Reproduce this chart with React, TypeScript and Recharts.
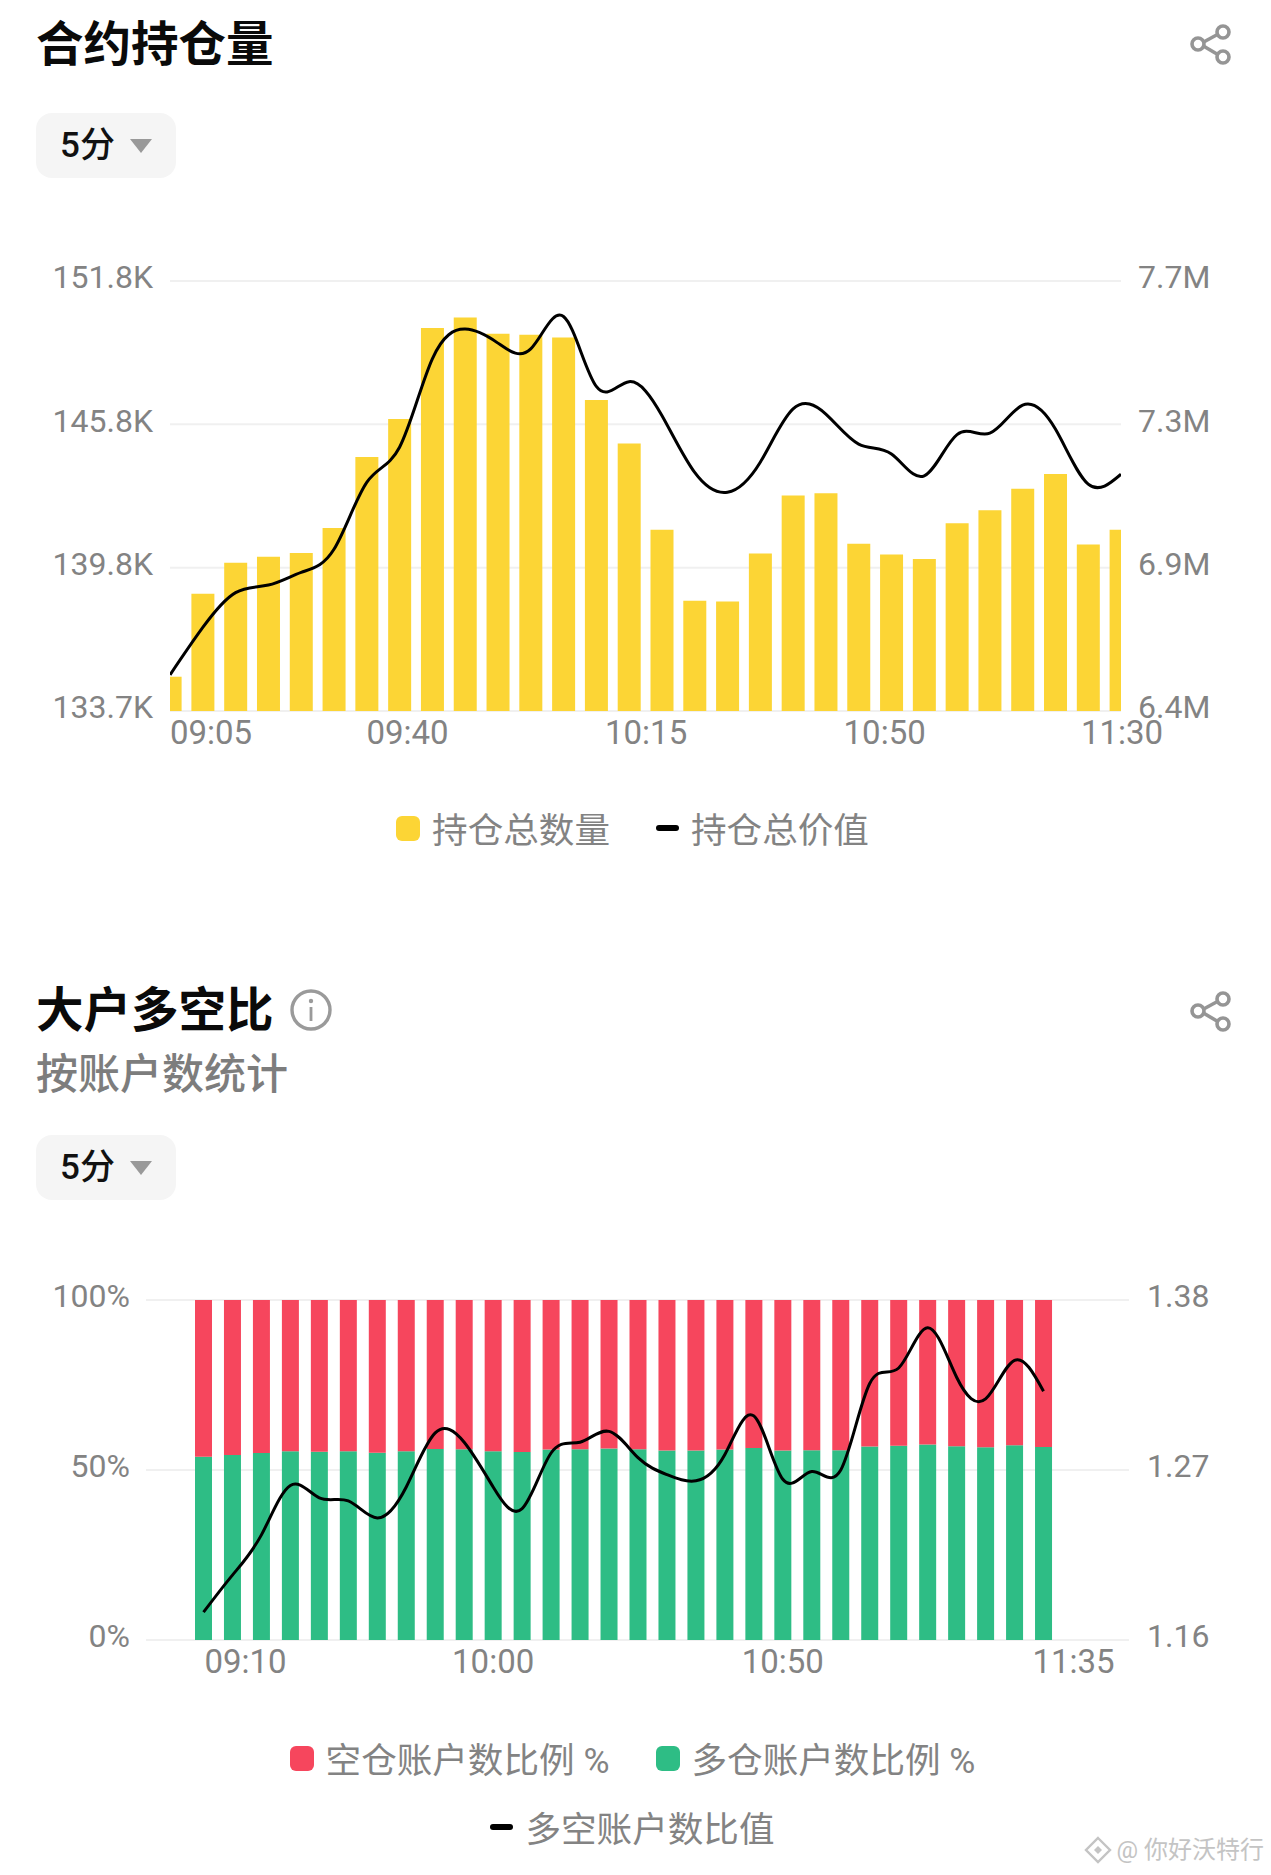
import {
  Bar,
  CartesianGrid,
  ComposedChart,
  Legend,
  Line,
  XAxis,
  YAxis,
} from "recharts";

const FONT = "Roboto, 'Noto Sans CJK SC', sans-serif";
const GRAY = "#838383";

const oiTimes = [
  "09:05", "09:10", "09:15", "09:20", "09:25", "09:30", "09:35", "09:40", "09:45", "09:50",
  "09:55", "10:00", "10:05", "10:10", "10:15", "10:20", "10:25", "10:30", "10:35", "10:40",
  "10:45", "10:50", "10:55", "11:00", "11:05", "11:10", "11:15", "11:20", "11:25", "11:30",
];
// thousands of contracts
const oiAmount = [
  135.18, 138.66, 139.97, 140.22, 140.38, 141.43, 144.41, 146.0, 149.83, 150.27,
  149.58, 149.54, 149.43, 146.8, 144.97, 141.35, 138.37, 138.34, 140.35, 142.79,
  142.89, 140.76, 140.31, 140.12, 141.63, 142.17, 143.07, 143.69, 140.73, 141.35,
];
// millions
const oiValue = [
  6.546, 6.685, 6.787, 6.809, 6.846, 6.914, 7.11, 7.213, 7.472, 7.559,
  7.518, 7.501, 7.596, 7.391, 7.405, 7.306, 7.139, 7.081, 7.169, 7.325,
  7.31, 7.222, 7.193, 7.129, 7.25, 7.254, 7.336, 7.266, 7.105, 7.134,
];
const oiLeftTicks = [133.74, 139.76, 145.78, 151.8];
const oiRightTicks = [6.44, 6.86, 7.28, 7.7];
const oiTimeTicks = ["09:05", "09:40", "10:15", "10:50", "11:30"];
const oiTickShift: Record<string, number> = { "09:05": 41, "09:40": 8, "10:15": 17, "10:50": 26, "11:30": 1 };

const ratioTimes = [
  "09:10", "09:15", "09:20", "09:25", "09:30", "09:35", "09:40", "09:45", "09:50", "09:55",
  "10:00", "10:05", "10:10", "10:15", "10:20", "10:25", "10:30", "10:35", "10:40", "10:45",
  "10:50", "10:55", "11:00", "11:05", "11:10", "11:15", "11:20", "11:25", "11:30", "11:35",
];
const longPct = [
  53.9, 54.4, 55, 55.5, 55.4, 55.5, 55.1, 55.5, 56.2, 56.1,
  55.5, 55.3, 56, 56.1, 56.3, 56.1, 55.7, 55.7, 56, 56.5,
  55.7, 55.8, 55.8, 56.9, 57.1, 57.5, 57, 56.7, 57.3, 56.8,
];
const shortPct = [
  46.1, 45.6, 45, 44.5, 44.6, 44.5, 44.9, 44.5, 43.8, 43.9,
  44.5, 44.7, 44, 43.9, 43.7, 43.9, 44.3, 44.3, 44, 43.5,
  44.3, 44.2, 44.2, 43.1, 42.9, 42.5, 43, 43.3, 42.7, 43.2,
];
const longShortRatio = [
  1.178, 1.202, 1.228, 1.26, 1.252, 1.25, 1.239, 1.259, 1.294, 1.288,
  1.259, 1.245, 1.281, 1.288, 1.295, 1.278, 1.267, 1.263, 1.28, 1.305,
  1.264, 1.269, 1.27, 1.326, 1.336, 1.362, 1.33, 1.316, 1.341, 1.321,
];
const ratioLeftTicks = [0, 50, 100];
const ratioRightTicks = [1.16, 1.27, 1.38];
const ratioTimeTicks = ["09:10", "10:00", "10:50", "11:35"];
const ratioTickShift: Record<string, number> = { "09:10": 42, "10:00": 0, "10:50": 0, "11:35": 30 };

const oiData = oiTimes.map((time, i) => ({ time, amount: oiAmount[i], value: oiValue[i] }));
const ratioData = ratioTimes.map((time, i) => ({
  time,
  long: longPct[i],
  short: shortPct[i],
  ratio: longShortRatio[i],
}));

const tickStyle = { fill: GRAY, fontSize: 32, fontFamily: FONT, dy: -4 };

function timeTick(shift: Record<string, number>) {
  return (props: any) => (
    <text
      x={props.x + (shift[props.payload.value] ?? 0)}
      y={props.y + 31}
      textAnchor="middle"
      fill={GRAY}
      fontSize={33}
      fontFamily={FONT}
    >
      {props.payload.value}
    </text>
  );
}

function legendContent(order: string[], paddingTop: number, maxWidth: number) {
  return (props: any) => {
    const items = [...(props.payload ?? [])].sort(
      (a: any, b: any) => order.indexOf(a.value) - order.indexOf(b.value),
    );
    return (
      <div
        style={{
          display: "flex",
          flexWrap: "wrap",
          justifyContent: "center",
          columnGap: 46,
          rowGap: 19,
          paddingTop,
          width: maxWidth,
          margin: "0 auto",
          position: "relative",
          left: -3,
          fontFamily: FONT,
          fontSize: 35.6,
          color: GRAY,
        }}
      >
        {items.map((item: any) => (
          <div key={item.value} style={{ display: "flex", alignItems: "center", height: 50, gap: 12, whiteSpace: "nowrap" }}>
            {item.type === "line" ? (
              <span style={{ width: 23, height: 6, borderRadius: 3, background: item.color }} />
            ) : (
              <span style={{ width: 24, height: 25, borderRadius: 6, background: item.color }} />
            )}
            <span style={{ position: "relative", top: -1 }}>{item.value}</span>
          </div>
        ))}
      </div>
    );
  };
}

function ShareIcon({ top }: { top: number }) {
  return (
    <svg width="44" height="44" viewBox="0 0 44 44" style={{ position: "absolute", left: 1189, top }}>
      <g fill="none" stroke="#959595" strokeWidth="3.6">
        <line x1="11" y1="22" x2="33" y2="10" />
        <line x1="11" y1="22" x2="33" y2="35" />
        <circle cx="9" cy="22" r="6" fill="#fff" />
        <circle cx="34" cy="10" r="6" fill="#fff" />
        <circle cx="34" cy="35" r="6" fill="#fff" />
      </g>
    </svg>
  );
}

function IntervalButton({ top }: { top: number }) {
  return (
    <div
      style={{
        position: "absolute",
        left: 36,
        top,
        width: 140,
        height: 65,
        borderRadius: 16,
        background: "#f5f5f5",
      }}
    >
      <span
        style={{
          position: "absolute",
          left: 24,
          top: 8,
          fontSize: 35,
          lineHeight: "50px",
          fontWeight: 500,
          fontFamily: FONT,
          color: "#111",
        }}
      >
        5分
      </span>
      <svg width="22" height="14" style={{ position: "absolute", left: 94, top: 26 }}>
        <path d="M0 0H22L11 14Z" fill="#999" />
      </svg>
    </div>
  );
}

function Title({ text, top }: { text: string; top: number }) {
  return (
    <div
      style={{
        position: "absolute",
        left: 36,
        top,
        fontSize: 47.5,
        lineHeight: "60px",
        fontWeight: 700,
        fontFamily: FONT,
        color: "#0a0a0a",
      }}
    >
      {text}
    </div>
  );
}

export default function App() {
  return (
    <div style={{ position: "absolute", left: 0, top: 0, width: 1271, height: 1875, background: "#fff", overflow: "hidden" }}>
      <Title text="合约持仓量" top={15} />
      <ShareIcon top={22} />
      <IntervalButton top={113} />

      <div style={{ position: "absolute", left: 0, top: 240 }}>
        <ComposedChart width={1271} height={613} data={oiData} margin={{ top: 41, right: 0, bottom: 0, left: 0 }}>
          <CartesianGrid vertical={false} stroke="#f0f0f0" strokeWidth={2} yAxisId="left" />
          <XAxis
            dataKey="time"
            scale="point"
            allowDataOverflow
            ticks={oiTimeTicks}
            interval={0}
            height={60}
            axisLine={false}
            tickLine={false}
            tickSize={0}
            tick={timeTick(oiTickShift)}
          />
          <YAxis
            yAxisId="left"
            width={170}
            domain={[oiLeftTicks[0], oiLeftTicks[3]]}
            ticks={oiLeftTicks}
            interval={0}
            axisLine={false}
            tickLine={false}
            tickSize={0}
            tickMargin={17}
            tick={tickStyle}
            tickFormatter={(v: number) => `${v.toFixed(1)}K`}
          />
          <YAxis
            yAxisId="right"
            orientation="right"
            width={150}
            domain={[oiRightTicks[0], oiRightTicks[3]]}
            ticks={oiRightTicks}
            interval={0}
            axisLine={false}
            tickLine={false}
            tickSize={0}
            tickMargin={17}
            tick={tickStyle}
            tickFormatter={(v: number) => `${v.toFixed(1)}M`}
          />
          <Legend content={legendContent(["持仓总数量", "持仓总价值"], 32, 700)} />
          <Bar yAxisId="left" dataKey="amount" name="持仓总数量" fill="#FCD535" barSize={23} isAnimationActive={false} />
          <Line yAxisId="right" dataKey="value" name="持仓总价值" type="natural" stroke="#000" strokeWidth={3} dot={false} isAnimationActive={false} />
        </ComposedChart>
      </div>

      <Title text="大户多空比" top={981} />
      <svg width="44" height="44" viewBox="0 0 44 44" style={{ position: "absolute", left: 289, top: 988 }}>
        <circle cx="22" cy="22" r="19" fill="none" stroke="#9a9a9a" strokeWidth="3.4" />
        <circle cx="22" cy="13" r="2.2" fill="#9a9a9a" />
        <rect x="20.6" y="19" width="2.8" height="14" fill="#9a9a9a" />
      </svg>
      <ShareIcon top={989} />
      <div
        style={{
          position: "absolute",
          left: 36,
          top: 1047,
          fontSize: 42,
          lineHeight: "56px",
          fontWeight: 500,
          fontFamily: FONT,
          color: "#7d7d7d",
        }}
      >
        按账户数统计
      </div>
      <IntervalButton top={1135} />

      <div style={{ position: "absolute", left: 0, top: 1270 }}>
        <ComposedChart width={1271} height={582} data={ratioData} margin={{ top: 30, right: 0, bottom: 0, left: 0 }}>
          <CartesianGrid vertical={false} stroke="#f0f0f0" strokeWidth={2} yAxisId="left" />
          <XAxis
            dataKey="time"
            ticks={ratioTimeTicks}
            interval={0}
            height={60}
            padding={{ left: 43, right: 71 }}
            axisLine={false}
            tickLine={false}
            tickSize={0}
            tick={timeTick(ratioTickShift)}
          />
          <YAxis
            yAxisId="left"
            width={146}
            domain={[0, 100]}
            ticks={ratioLeftTicks}
            interval={0}
            axisLine={false}
            tickLine={false}
            tickSize={0}
            tickMargin={16}
            tick={tickStyle}
            tickFormatter={(v: number) => `${v}%`}
          />
          <YAxis
            yAxisId="right"
            orientation="right"
            width={142}
            domain={[ratioRightTicks[0], ratioRightTicks[2]]}
            ticks={ratioRightTicks}
            interval={0}
            axisLine={false}
            tickLine={false}
            tickSize={0}
            tickMargin={18}
            tick={tickStyle}
            tickFormatter={(v: number) => v.toFixed(2)}
          />
          <Legend content={legendContent(["空仓账户数比例 %", "多仓账户数比例 %", "多空账户数比值"], 33, 760)} />
          <Bar yAxisId="left" dataKey="long" name="多仓账户数比例 %" stackId="a" fill="#2EBD85" barSize={17} isAnimationActive={false} />
          <Bar yAxisId="left" dataKey="short" name="空仓账户数比例 %" stackId="a" fill="#F6465D" barSize={17} isAnimationActive={false} />
          <Line yAxisId="right" dataKey="ratio" name="多空账户数比值" type="natural" stroke="#000" strokeWidth={3} dot={false} isAnimationActive={false} />
        </ComposedChart>
      </div>

      <div
        style={{
          position: "absolute",
          right: 7,
          top: 1836,
          display: "flex",
          alignItems: "center",
          gap: 4,
          fontFamily: FONT,
          fontSize: 24,
          lineHeight: "28px",
          color: "#c4c4c4",
        }}
      >
        <svg width="28" height="28" viewBox="0 0 28 28">
          <path d="M14 2L26 14L14 26L2 14Z" fill="none" stroke="#c4c4c4" strokeWidth="2.4" />
          <path d="M14 10L18 14L14 18L10 14Z" fill="#c4c4c4" />
        </svg>
        <span>@ 你好沃特行</span>
      </div>
    </div>
  );
}
